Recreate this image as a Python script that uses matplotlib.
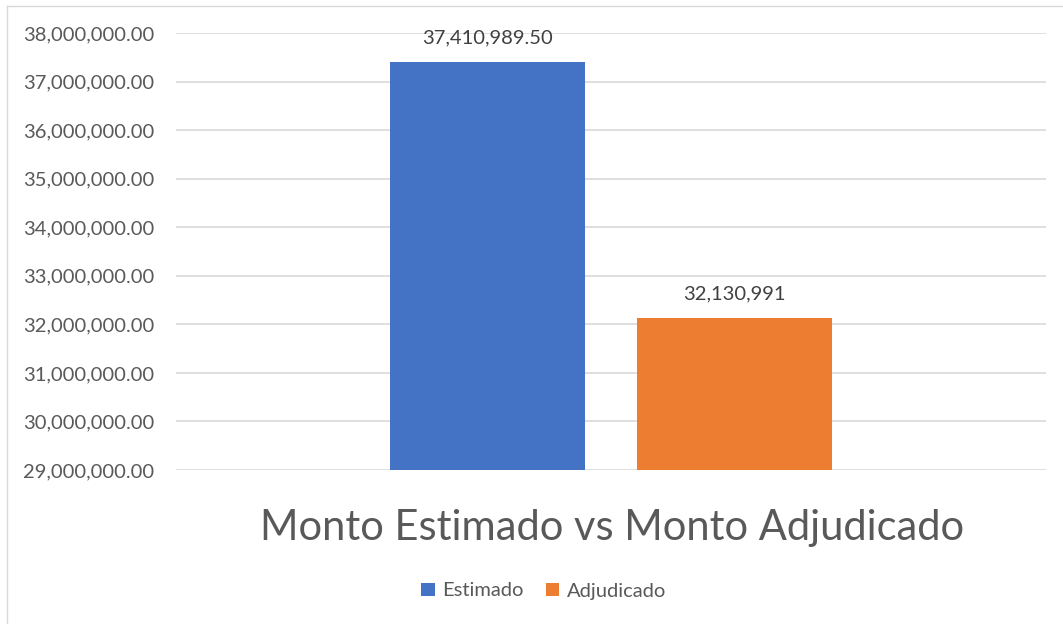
import matplotlib
matplotlib.use("Agg")
import matplotlib.pyplot as plt
from matplotlib.lines import Line2D
from matplotlib.ticker import FuncFormatter

categories = ["Estimado", "Adjudicado"]
values = [37410989.50, 32130991]
value_labels = ["37,410,989.50", "32,130,991"]
colors = ["#4472C4", "#ED7D31"]
title = "Monto Estimado vs Monto Adjudicado"

plt.rcParams['font.family'] = ['Lato', 'DejaVu Sans']

W, H = 1063, 624
fig = plt.figure(figsize=(W/100, H/100), dpi=100)
fig.patch.set_facecolor("white")

# outer border (left and top visible only)
fig.lines.append(Line2D([7/W, 7/W], [0, 1 - 6/H], transform=fig.transFigure,
                        color="#D9D9D9", linewidth=1))
fig.lines.append(Line2D([7/W, 1], [1 - 6/H, 1 - 6/H], transform=fig.transFigure,
                        color="#D9D9D9", linewidth=1))

ax = fig.add_axes([176/W, 1 - 470/H, (1046-176)/W, (470-33)/H])
ax.set_xlim(-0.5, 0.5)
ax.set_ylim(29000000, 38000000)
ax.set_yticks([29000000 + i*1000000 for i in range(10)])
ax.yaxis.set_major_formatter(FuncFormatter(lambda v, p: f"{v:,.2f}"))
ax.grid(axis='y', color="#D9D9D9", linewidth=1.2)
ax.set_axisbelow(True)
for s in ax.spines.values():
    s.set_visible(False)
ax.tick_params(axis='y', length=0, pad=15.5, labelsize=14.5, labelcolor="#595959")
ax.set_xticks([])

offsets = [-0.142, 0.142]
width = 0.224
bars = []
for off, v, c, cat, lab in zip(offsets, values, colors, categories, value_labels):
    b = ax.bar(off, v, width=width, color=c, label=cat, zorder=3)
    bars.append(b)
    ax.annotate(lab, (off, v), xytext=(0, 11), textcoords="offset points",
                ha="center", va="bottom", fontsize=14.5, color="#404040")

fig.text(612/W, 1 - 528/H, title, ha="center", va="center", fontsize=30, color="#595959")

leg = fig.legend(handles=[b[0] for b in bars], labels=categories, loc="center",
                 bbox_to_anchor=(544/W, 1 - 591/H), ncol=2, frameon=False,
                 fontsize=14.5, handlelength=0.65, handleheight=0.65, handletextpad=0.4,
                 columnspacing=1.1, labelcolor="#595959")

fig.savefig("out.png", dpi=100, facecolor="white")
